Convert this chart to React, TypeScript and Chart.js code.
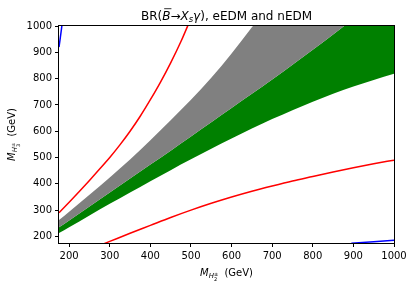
import React, { useEffect, useRef } from "react";
import { Chart, registerables } from "chart.js";
Chart.register(...registerables);

// ---- data ----
const bandX = [175, 200, 250, 300, 350, 400, 450, 500, 550, 600, 650, 700, 750, 800, 850, 900, 950, 1000];
const grayUpper = [262, 294, 358, 424, 492, 566, 642, 720, 803, 895, 995, 1100, 1210, 1330, 1450, 1580, 1710, 1850];
const greenUpper = [235, 261, 314, 367, 420, 473, 526, 580, 634, 688, 742, 797, 853, 910, 968, 1027, 1087, 1148];
const greenLower = [213, 235, 280, 324, 367, 410, 452, 493, 533, 572, 610, 646, 680, 712, 742, 770, 795, 818];

const redUpperX = [175, 200, 225, 250, 275, 300, 325, 350, 375, 400, 425, 450, 475, 500];
const redUpperY = [290, 330, 371, 413, 456, 500, 548, 600, 657, 720, 787, 860, 940, 1030];

const redLowerX = [250, 300, 350, 400, 450, 500, 550, 600, 650, 700, 750, 800, 850, 900, 950, 1000];
const redLowerY = [150, 181, 212, 242, 272, 300, 326, 350, 372, 392, 411, 428, 445, 461, 476, 490];

const blueTopX = [175, 182, 184];
const blueTopY = [920, 1000, 1030];
const blueBottomX = [895, 950, 1000];
const blueBottomY = [174, 180, 185];

const xTicks = [200, 300, 400, 500, 600, 700, 800, 900, 1000];
const yTicks = [200, 300, 400, 500, 600, 700, 800, 900, 1000];

const pts = (xs: number[], ys: number[]) => xs.map((x, i) => ({ x, y: ys[i] }));

type Seg = { t: string; it?: boolean; size: number; dy?: number; bar?: boolean; stack?: boolean };
const FAMILY = '"DejaVu Sans", sans-serif';

function drawSegs(ctx: CanvasRenderingContext2D, segs: Seg[], cx: number, by: number) {
  const fnt = (s: Seg) => `${s.it ? "italic " : ""}${s.size}px ${FAMILY}`;
  const ws = segs.map((s) => {
    ctx.font = fnt(s);
    return ctx.measureText(s.t).width;
  });
  let total = 0;
  segs.forEach((s, i) => {
    if (s.stack) total += Math.max(0, ws[i] - ws[i - 1]);
    else total += ws[i];
  });
  let x = cx - total / 2;
  segs.forEach((s, i) => {
    ctx.font = fnt(s);
    let drawX = x;
    if (s.stack) drawX = x - ws[i - 1];
    ctx.fillText(s.t, drawX, by + (s.dy || 0));
    if (s.bar) {
      ctx.save();
      ctx.lineWidth = 0.8;
      ctx.strokeStyle = "#000";
      ctx.beginPath();
      const top = by + (s.dy || 0) - s.size * 0.9;
      ctx.moveTo(drawX + 2, top);
      ctx.lineTo(drawX + ws[i] + 1, top);
      ctx.stroke();
      ctx.restore();
    }
    if (s.stack) x += Math.max(0, ws[i] - ws[i - 1]);
    else x += ws[i];
  });
}

const labelPlugin = {
  id: "customLabels",
  afterDatasetsDraw(chart: any) {
    const { ctx, chartArea } = chart;
    const { left, right, top, bottom } = chartArea;
    ctx.save();
    ctx.strokeStyle = "#000";
    ctx.lineWidth = 1;
    ctx.strokeRect(Math.round(left) - 0.5, Math.round(top) - 0.5, Math.round(right - left) + 1, Math.round(bottom - top) + 1);
    ctx.restore();
  },
  afterDraw(chart: any) {
    const { ctx, chartArea } = chart;
    const { left, right, top, bottom } = chartArea;
    const cx = (left + right) / 2;
    ctx.save();
    ctx.fillStyle = "#000";
    ctx.textBaseline = "alphabetic";
    ctx.textAlign = "left";
    // title
    drawSegs(
      ctx,
      [
        { t: "BR(", size: 12 },
        { t: "B", it: true, size: 12, bar: true },
        { t: "\u2192", size: 12 },
        { t: "X", it: true, size: 12 },
        { t: "s", it: true, size: 8.5, dy: 2 },
        { t: "\u03B3", it: true, size: 12 },
        { t: "), eEDM and nEDM", size: 12 },
      ],
      cx,
      19.5
    );
    // axis labels
    const lab = (n: string): Seg[] => [
      { t: "M", it: true, size: 10 },
      { t: "H", it: true, size: 7, dy: 2 },
      { t: n, size: 5, dy: 4.5 },
      { t: "\u00B1", size: 5, dy: -0.5, stack: true },
      { t: "  (GeV)", size: 10 },
    ];
    drawSegs(ctx, lab("2"), cx, 276);
    ctx.translate(15, (top + bottom) / 2);
    ctx.rotate(-Math.PI / 2);
    drawSegs(ctx, lab("3"), 0, 0);
    ctx.restore();
  },
};

export default function App() {
  const ref = useRef<HTMLCanvasElement | null>(null);
  useEffect(() => {
    document.body.style.margin = "0";
    if (!ref.current) return;
    const line = (data: any[], color: string) => ({
      data,
      borderColor: color,
      borderWidth: 1.5,
      pointRadius: 0,
      fill: false,
      cubicInterpolationMode: "monotone" as const,
    });
    const band = (data: any[], color: string, fill: any) => ({
      data,
      borderWidth: 0,
      borderColor: "rgba(0,0,0,0)",
      backgroundColor: color,
      pointRadius: 0,
      fill,
      cubicInterpolationMode: "monotone" as const,
    });
    const tickCb = (v: any) => String(v);
    const chart = new Chart(ref.current, {
      type: "line",
      data: {
        datasets: [
          band(pts(bandX, grayUpper), "#808080", 1),
          band(pts(bandX, greenUpper), "#008000", 2),
          band(pts(bandX, greenLower), "rgba(0,0,0,0)", false),
          line(pts(redUpperX, redUpperY), "#ff0000"),
          line(pts(redLowerX, redLowerY), "#ff0000"),
          line(pts(blueTopX, blueTopY), "#0000ff"),
          line(pts(blueBottomX, blueBottomY), "#0000ff"),
        ] as any,
      },
      options: {
        animation: false,
        responsive: true,
        maintainAspectRatio: false,
        layout: { padding: { left: 0, top: 26, right: 19, bottom: 0 } },
        plugins: { legend: { display: false }, tooltip: { enabled: false }, title: { display: false } },
        scales: {
          x: {
            type: "linear",
            min: 175,
            max: 1000,
            border: { display: false },
            grid: { drawOnChartArea: false, drawTicks: true, tickLength: 4, color: "#000", lineWidth: 1 },
            ticks: { color: "#000", font: { family: FAMILY, size: 10 }, padding: 3, maxRotation: 0, callback: tickCb },
            afterBuildTicks: (s: any) => {
              s.ticks = xTicks.map((v) => ({ value: v }));
            },
            afterFit: (s: any) => {
              s.height = 45;
            },
          },
          y: {
            type: "linear",
            min: 175,
            max: 1000,
            border: { display: false },
            grid: { drawOnChartArea: false, drawTicks: true, tickLength: 4, color: "#000", lineWidth: 1 },
            ticks: { color: "#000", font: { family: FAMILY, size: 10 }, padding: 3, callback: tickCb },
            afterBuildTicks: (s: any) => {
              s.ticks = yTicks.map((v) => ({ value: v }));
            },
            afterFit: (s: any) => {
              s.width = 59;
            },
          },
        },
      },
      plugins: [labelPlugin],
    });
    return () => chart.destroy();
  }, []);
  return (
    <div style={{ position: "absolute", left: 0, top: 0, width: 413, height: 288 }}>
      <canvas ref={ref} />
    </div>
  );
}
